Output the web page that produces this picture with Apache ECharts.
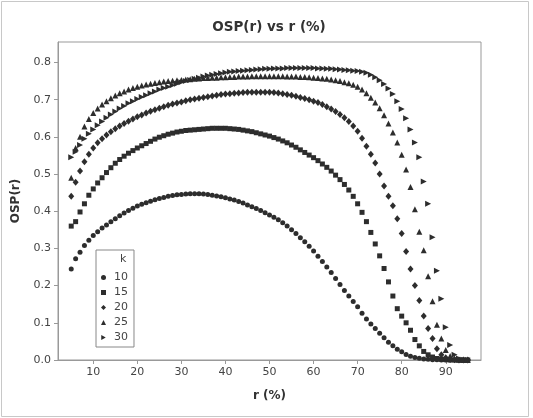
<!DOCTYPE html>
<html>
<head>
<meta charset="utf-8">
<script src="https://cdn.jsdelivr.net/npm/echarts@6/dist/echarts.min.js"></script>
<style>
  html, body { margin: 0; padding: 0; background: #fff; }
  #chart { width: 533px; height: 418px; }
</style>
</head>
<body>
<div id="chart"></div>
<script>
// r (%) values, one point per percent
var rValues = [5,6,7,8,9,10,11,12,13,14,15,16,17,18,19,20,21,22,23,24,25,26,27,28,29,30,
  31,32,33,34,35,36,37,38,39,40,41,42,43,44,45,46,47,48,49,50,51,52,53,54,55,56,57,58,59,60,
  61,62,63,64,65,66,67,68,69,70,71,72,73,74,75,76,77,78,79,80,81,82,83,84,85,86,87,88,89,90,
  91,92,93,94,95];

// OSP(r), per k
var osp10 = [.245,.272,.29,.308,.322,.335,.345,.355,.363,.372,.38,.388,.395,.402,.408,.414,.419,.423,.427,.431,
  .434,.437,.44,.442,.444,.445,.446,.447,.447,.447,.446,.445,.443,.441,.439,.436,.433,.43,.426,.422,
  .417,.412,.407,.402,.396,.39,.384,.377,.369,.36,.35,.34,.329,.318,.306,.293,.279,.265,.25,.235,
  .219,.203,.187,.172,.157,.143,.126,.11,.097,.085,.072,.06,.048,.038,.029,.022,.015,.01,.007,.005,
  .003,.002,.001,.001,0,0,0,0,0,0,0];
var osp15 = [.36,.372,.398,.42,.443,.46,.476,.49,.504,.517,.529,.539,.548,.556,.563,.57,.576,.582,.588,.594,
  .599,.603,.607,.61,.613,.615,.617,.618,.619,.62,.621,.622,.623,.623,.623,.623,.622,.621,.62,.618,
  .616,.614,.611,.608,.605,.602,.598,.594,.589,.584,.578,.572,.565,.558,.551,.544,.536,.527,.518,.508,
  .497,.485,.472,.457,.44,.42,.397,.372,.343,.312,.28,.246,.21,.172,.138,.118,.1,.08,.055,.038,
  .023,.014,.008,.004,.002,.001,0,0,0,0,0];
var osp20 = [.44,.478,.508,.533,.553,.57,.584,.595,.605,.614,.622,.629,.636,.642,.648,.654,.659,.664,.669,.673,
  .677,.681,.685,.688,.691,.694,.697,.7,.702,.704,.706,.708,.71,.712,.714,.715,.716,.717,.718,.719,
  .72,.72,.72,.72,.72,.72,.719,.718,.716,.714,.712,.709,.706,.703,.7,.696,.692,.687,.681,.675,
  .668,.66,.651,.641,.629,.615,.596,.575,.553,.53,.5,.468,.44,.415,.38,.34,.292,.245,.2,.16,
  .118,.085,.058,.03,.014,.006,.002,.001,0,0,0];
var osp25 = [.49,.57,.6,.628,.648,.664,.676,.687,.696,.704,.711,.717,.722,.727,.731,.735,.738,.741,.743,.745,
  .747,.749,.75,.751,.752,.753,.754,.755,.756,.757,.758,.758,.759,.759,.76,.76,.761,.761,.762,.762,
  .762,.763,.763,.763,.763,.763,.763,.763,.763,.762,.762,.762,.761,.761,.76,.759,.758,.757,.756,.754,
  .752,.75,.747,.744,.74,.735,.727,.717,.705,.692,.677,.658,.636,.612,.585,.552,.512,.465,.405,.345,
  .295,.225,.158,.095,.058,.027,.011,.004,.001,0,0];
var osp30 = [.545,.56,.578,.595,.608,.62,.631,.641,.651,.66,.668,.676,.683,.69,.696,.702,.707,.712,.717,.722,
  .727,.731,.735,.739,.743,.747,.75,.753,.756,.759,.762,.765,.767,.769,.771,.773,.775,.776,.777,.778,
  .779,.78,.781,.782,.783,.783,.784,.784,.784,.785,.785,.785,.785,.785,.785,.785,.784,.784,.783,.783,
  .782,.781,.78,.779,.778,.777,.775,.772,.767,.76,.752,.742,.73,.715,.696,.675,.65,.62,.585,.545,
  .48,.42,.33,.24,.165,.088,.04,.014,.004,.001,0];

var kNames = ['10', '15', '20', '25', '30'];
var xTicks = [10, 20, 30, 40, 50, 60, 70, 80, 90];
var yTicks = [0, 0.1, 0.2, 0.3, 0.4, 0.5, 0.6, 0.7, 0.8];

var markColor = '#2d2d2d';
var font = 'DejaVu Sans, Verdana, sans-serif';

function pairs(vals) {
  return rValues.map(function (r, i) { return [r, vals[i]]; });
}

function makeSeries(name, vals, symbol, size) {
  return {
    name: name,
    type: 'scatter',
    data: pairs(vals),
    symbol: symbol,
    symbolSize: size,
    clip: false,
    itemStyle: { color: markColor, opacity: 1 },
    emphasis: { disabled: true }
  };
}

var chart = echarts.init(document.getElementById('chart'), null, { renderer: 'canvas' });

chart.setOption({
  animation: false,
  backgroundColor: '#fff',
  title: {
    text: 'OSP(r) vs r (%)',
    left: 264, top: 15, textAlign: 'center',
    textStyle: { fontFamily: font, fontSize: 13.5, fontWeight: 'bold', color: '#333' }
  },
  grid: {
    left: 58, top: 42, right: 52, bottom: 58,
    show: true, borderColor: '#999', borderWidth: 1, backgroundColor: '#fff'
  },
  xAxis: {
    type: 'value', min: 2, max: 98,
    name: 'r (%)', nameLocation: 'middle', nameGap: 30,
    nameTextStyle: { fontFamily: font, fontSize: 12, fontWeight: 'bold', color: '#333' },
    axisLine: { show: true, lineStyle: { color: '#999' } },
    axisTick: { show: true, length: 4, lineStyle: { color: '#999' }, customValues: xTicks },
    axisLabel: { fontFamily: font, fontSize: 11, color: '#444', margin: 7, customValues: xTicks },
    splitLine: { show: false }
  },
  yAxis: {
    type: 'value', min: 0, max: 0.855,
    name: 'OSP(r)', nameLocation: 'middle', nameGap: 36,
    nameTextStyle: { fontFamily: font, fontSize: 12, fontWeight: 'bold', color: '#333' },
    axisLine: { show: true, lineStyle: { color: '#999' } },
    axisTick: { show: true, length: 4, lineStyle: { color: '#999' }, customValues: yTicks },
    axisLabel: {
      fontFamily: font, fontSize: 11, color: '#444', margin: 7, customValues: yTicks,
      formatter: function (v) { return v.toFixed(1); }
    },
    splitLine: { show: false }
  },
  legend: {
    orient: 'vertical', left: 96, top: 250,
    padding: [21, 6, 3, 5],
    itemWidth: 5, itemHeight: 5, itemGap: 2,
    itemStyle: { borderWidth: 0 },
    borderColor: '#888', borderWidth: 1, backgroundColor: '#fff',
    textStyle: { fontFamily: font, fontSize: 11, color: '#444', lineHeight: 13, padding: [0, 0, 0, 3] },
    data: kNames
  },
  graphic: [
    {
      type: 'rect', silent: true, z: -10,
      shape: { x: 1.5, y: 1.5, width: 527, height: 415 },
      style: { fill: 'none', stroke: '#c8c8c8', lineWidth: 1 }
    },
    {
      type: 'text', left: 120, top: 254, z: 100,
      style: { text: 'k', font: '11px ' + font, fill: '#444' }
    }
  ],
  series: [
    makeSeries(kNames[0], osp10, 'circle', 5),
    makeSeries(kNames[1], osp15, 'rect', 5),
    makeSeries(kNames[2], osp20, 'diamond', [6, 7]),
    makeSeries(kNames[3], osp25, 'triangle', 6),
    makeSeries(kNames[4], osp30, 'path://M0,0L9,5L0,10Z', 6)
  ]
});
</script>
</body>
</html>
